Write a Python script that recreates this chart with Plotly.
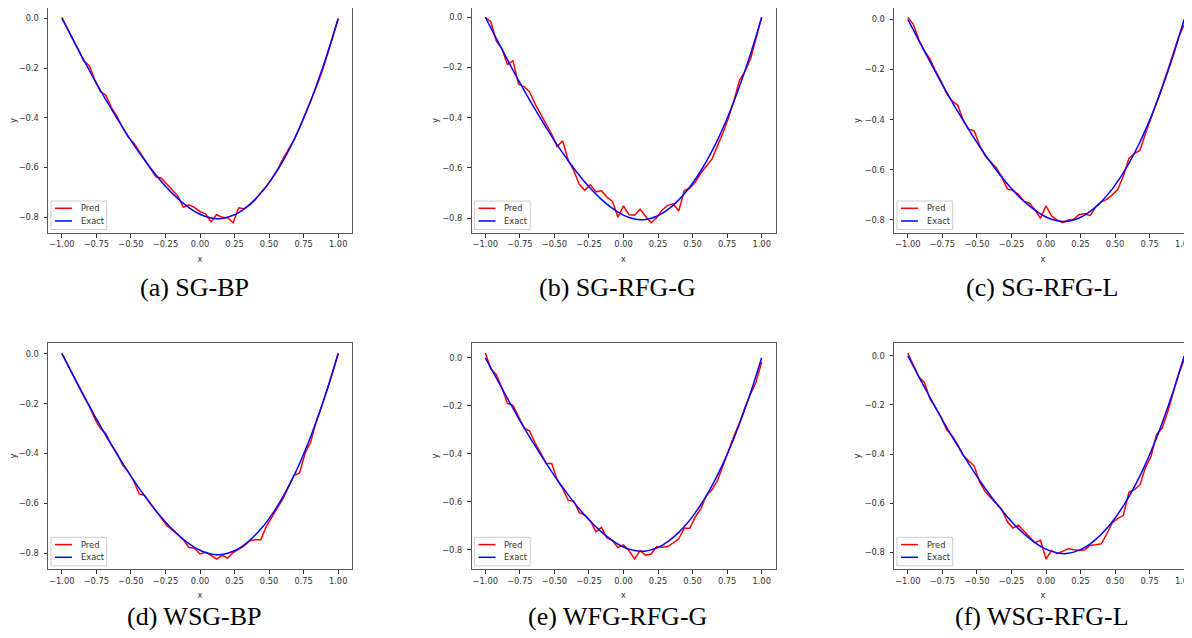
import plotly.graph_objects as go

# ---------------- data ----------------
x_grid = [-1.00, -0.96, -0.92, -0.88, -0.84, -0.80, -0.76, -0.72, -0.68, -0.64,
          -0.60, -0.56, -0.52, -0.48, -0.44, -0.40, -0.36, -0.32, -0.28, -0.24,
          -0.20, -0.16, -0.12, -0.08, -0.04, 0.00, 0.04, 0.08, 0.12, 0.16,
          0.20, 0.24, 0.28, 0.32, 0.36, 0.40, 0.44, 0.48, 0.52, 0.56,
          0.60, 0.64, 0.68, 0.72, 0.76, 0.80, 0.84, 0.88, 0.92, 0.96, 1.00]

exact = [0.000, -0.042, -0.085, -0.127, -0.169, -0.210, -0.251, -0.290, -0.329, -0.366,
         -0.403, -0.439, -0.474, -0.508, -0.540, -0.571, -0.601, -0.629, -0.656, -0.681,
         -0.704, -0.725, -0.744, -0.761, -0.776, -0.788, -0.797, -0.803, -0.806, -0.805,
         -0.800, -0.792, -0.781, -0.766, -0.748, -0.727, -0.703, -0.676, -0.645, -0.611,
         -0.574, -0.533, -0.489, -0.441, -0.389, -0.334, -0.274, -0.211, -0.145, -0.074, 0.000]

pred_sg_bp = [0.004, -0.040, -0.080, -0.128, -0.172, -0.192, -0.250, -0.295, -0.310, -0.360,
              -0.395, -0.440, -0.478, -0.500, -0.535, -0.570, -0.600, -0.637, -0.643, -0.668,
              -0.690, -0.715, -0.760, -0.750, -0.760, -0.778, -0.786, -0.818, -0.790, -0.800,
              -0.802, -0.822, -0.762, -0.766, -0.750, -0.730, -0.700, -0.676, -0.645, -0.610,
              -0.565, -0.530, -0.490, -0.440, -0.388, -0.330, -0.278, -0.220, -0.150, -0.075, -0.005]

pred_sg_rfg_g = [0.000, -0.018, -0.095, -0.125, -0.188, -0.173, -0.266, -0.276, -0.296, -0.345,
                 -0.385, -0.425, -0.465, -0.515, -0.492, -0.570, -0.610, -0.665, -0.689, -0.667,
                 -0.695, -0.691, -0.716, -0.733, -0.796, -0.751, -0.786, -0.788, -0.764, -0.793,
                 -0.818, -0.798, -0.767, -0.749, -0.743, -0.771, -0.690, -0.680, -0.656, -0.620,
                 -0.590, -0.565, -0.512, -0.460, -0.400, -0.330, -0.250, -0.215, -0.165, -0.080, 0.000]

pred_sg_rfg_l = [0.008, -0.020, -0.082, -0.125, -0.158, -0.205, -0.245, -0.295, -0.325, -0.342,
                 -0.400, -0.438, -0.445, -0.502, -0.545, -0.568, -0.592, -0.628, -0.676, -0.682,
                 -0.698, -0.726, -0.732, -0.760, -0.793, -0.744, -0.784, -0.800, -0.811, -0.800,
                 -0.797, -0.778, -0.775, -0.783, -0.748, -0.728, -0.718, -0.700, -0.678, -0.625,
                 -0.555, -0.535, -0.522, -0.455, -0.395, -0.330, -0.270, -0.205, -0.140, -0.070, -0.022]

pred_wsg_bp = [0.003, -0.042, -0.088, -0.130, -0.172, -0.212, -0.262, -0.300, -0.322, -0.366,
               -0.400, -0.446, -0.472, -0.510, -0.562, -0.568, -0.598, -0.628, -0.658, -0.690,
               -0.706, -0.726, -0.746, -0.777, -0.780, -0.803, -0.796, -0.808, -0.823, -0.808,
               -0.819, -0.797, -0.782, -0.770, -0.750, -0.746, -0.746, -0.692, -0.655, -0.620,
               -0.582, -0.535, -0.488, -0.478, -0.400, -0.355, -0.275, -0.212, -0.145, -0.072, 0.003]

pred_wfg_rfg_g = [0.020, -0.046, -0.070, -0.125, -0.190, -0.198, -0.245, -0.292, -0.305, -0.355,
                  -0.395, -0.440, -0.440, -0.508, -0.545, -0.594, -0.597, -0.645, -0.655, -0.678,
                  -0.725, -0.706, -0.750, -0.761, -0.790, -0.779, -0.804, -0.838, -0.803, -0.822,
                  -0.817, -0.786, -0.789, -0.786, -0.771, -0.754, -0.710, -0.710, -0.662, -0.628,
                  -0.573, -0.550, -0.512, -0.450, -0.380, -0.325, -0.270, -0.205, -0.150, -0.100, -0.018]

pred_wsg_rfg_l = [0.012, -0.035, -0.085, -0.108, -0.174, -0.210, -0.248, -0.300, -0.325, -0.360,
                  -0.405, -0.428, -0.448, -0.515, -0.553, -0.578, -0.600, -0.625, -0.675, -0.702,
                  -0.690, -0.715, -0.740, -0.762, -0.752, -0.828, -0.793, -0.806, -0.797, -0.786,
                  -0.790, -0.793, -0.790, -0.772, -0.770, -0.766, -0.725, -0.680, -0.662, -0.650,
                  -0.556, -0.545, -0.525, -0.455, -0.410, -0.320, -0.295, -0.230, -0.150, -0.075, -0.015]

captions = ["(a) SG-BP", "(b) SG-RFG-G", "(c) SG-RFG-L",
            "(d) WSG-BP", "(e) WFG-RFG-G", "(f) WSG-RFG-L"]
preds = [pred_sg_bp, pred_sg_rfg_g, pred_sg_rfg_l,
         pred_wsg_bp, pred_wfg_rfg_g, pred_wsg_rfg_l]
series_names = ["Pred", "Exact"]
series_colors = ["#ff0000", "#0000ff"]

x_tickvals = [-1.0, -0.75, -0.5, -0.25, 0.0, 0.25, 0.5, 0.75, 1.0]
x_ticktext = ["\u22121.00", "\u22120.75", "\u22120.50", "\u22120.25", "0.00", "0.25", "0.50", "0.75", "1.00"]
y_tickvals = [0.0, -0.2, -0.4, -0.6, -0.8]
y_ticktext = ["0.0", "\u22120.2", "\u22120.4", "\u22120.6", "\u22120.8"]

# ---------------- layout geometry (page has an 8px body margin) ----------------
OFF = 8
W, H = 1192 - OFF, 638 - OFF
col_px = [(48, 352), (471.5, 775.5), (894, 1198)]     # axes frames in page pixels
row_px = [(7, 233), (342.7, 569.3)]
cap_x_px = [194, 617.5, 1041.5]
cap_y_px = [287.5, 616.5]


def px(p):
    return (p - OFF) / W


def py(p):
    return 1 - (p - OFF) / H


tick_font = dict(family="DejaVu Sans", size=8.3, color="#333333")

fig = go.Figure()
layout = dict(width=W, height=H, margin=dict(l=0, r=0, t=0, b=0),
              paper_bgcolor="white", plot_bgcolor="white", showlegend=False)
annotations = []
shapes = []

for k in range(6):
    r, c = divmod(k, 3)
    idx = "" if k == 0 else str(k + 1)
    xa, ya = "x" + idx, "y" + idx
    fig.add_trace(go.Scatter(x=x_grid, y=preds[k], mode="lines", name=series_names[0],
                             line=dict(color=series_colors[0], width=1.5),
                             xaxis=xa, yaxis=ya))
    fig.add_trace(go.Scatter(x=x_grid, y=exact, mode="lines", name=series_names[1],
                             line=dict(color=series_colors[1], width=1.5, shape="spline", smoothing=0.6),
                             xaxis=xa, yaxis=ya))
    allv = preds[k] + exact
    lo, hi = min(allv), max(allv)
    pad = 0.05 * (hi - lo)
    ylo, yhi = lo - pad, hi + pad
    xlo, xhi = -1.1, 1.1
    L, R = col_px[c]
    T, B = row_px[r]
    # clip frames that run past the visible page, keeping the data scale
    if T < OFF:
        yhi -= (OFF - T) * (yhi - ylo) / (B - T)
        T = OFF
    if R > 1192:
        xhi -= (R - 1192) * (xhi - xlo) / (R - L)
        R = 1192
    clipped = c == 2
    layout["xaxis" + idx] = dict(
        domain=[px(L), px(R)], anchor=ya, range=[xlo, xhi],
        tickvals=x_tickvals, ticktext=x_ticktext, ticks="outside", ticklen=3.5,
        tickwidth=0.8, tickcolor="#333", tickfont=tick_font, showgrid=False, zeroline=False,
        showline=True, linecolor="#555", linewidth=1, mirror=True,
        ticklabeloverflow="allow",
        title=dict(text="x", font=tick_font, standoff=7))
    layout["yaxis" + idx] = dict(
        domain=[py(B), py(T)], anchor=xa, range=[ylo, yhi],
        tickvals=y_tickvals, ticktext=y_ticktext, ticks="outside", ticklen=3.5,
        tickwidth=0.8, tickcolor="#333", tickfont=tick_font, showgrid=False, zeroline=False,
        showline=True, linecolor="#555", linewidth=1, mirror=(not clipped),
        ticklabelstandoff=3,
        title=dict(text="y", font=tick_font, standoff=2))
    # legend (matplotlib-style, lower left inside the axes)
    shapes.append(dict(type="rect", xref="paper", yref="paper",
                       x0=px(L + 3), x1=px(L + 58.7), y0=py(B - 3.5), y1=py(B - 32),
                       line=dict(color="#cccccc", width=1), fillcolor="rgba(255,255,255,0.8)",
                       layer="above"))
    for j, yy in enumerate([B - 24.7, B - 12]):
        shapes.append(dict(type="line", xref="paper", yref="paper",
                           x0=px(L + 7), x1=px(L + 24), y0=py(yy), y1=py(yy),
                           line=dict(color=series_colors[j], width=1.5), layer="above"))
        annotations.append(dict(text=series_names[j], x=px(L + 30.5), y=py(yy),
                                xref="paper", yref="paper", showarrow=False,
                                xanchor="left", yanchor="middle",
                                font=dict(family="DejaVu Sans", size=8.3, color="#333333")))
    annotations.append(dict(text=captions[k], x=px(cap_x_px[c]), y=py(cap_y_px[r]),
                            xref="paper", yref="paper", showarrow=False,
                            xanchor="center", yanchor="middle",
                            font=dict(family="Liberation Serif", size=26, color="#000000")))

layout["annotations"] = annotations
layout["shapes"] = shapes
fig.update_layout(**layout)
fig.write_html("out.html")
